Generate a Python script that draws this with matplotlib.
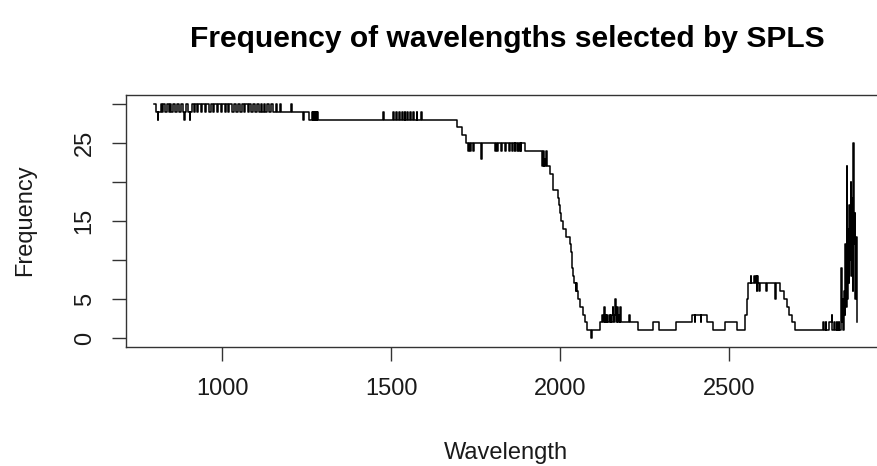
import matplotlib
matplotlib.use("Agg")
import matplotlib.pyplot as plt

# Step breakpoints (wavelength, frequency)
wavelength = [
    800, 804, 810, 812, 818, 822, 826, 830, 836, 842, 846, 850, 856, 862, 866, 872, 878, 884, 888, 890,
    894, 898, 904, 906, 910, 916, 920, 926, 930, 938, 942, 950, 954, 962, 966, 972, 976, 984, 988, 996,
    1000, 1008, 1012, 1018, 1022, 1030, 1034, 1040, 1046, 1052, 1058, 1064, 1068, 1076, 1080, 1086, 1092,
    1098, 1104, 1108, 1114, 1118, 1124, 1128, 1134, 1138, 1146, 1150, 1160, 1162, 1172, 1174, 1204, 1206,
    1240, 1242, 1258, 1266, 1268, 1270, 1272, 1274, 1276, 1278, 1280, 1282, 1284,
    1476, 1478, 1506, 1508, 1516, 1518, 1524, 1526, 1532, 1534, 1540, 1542, 1548, 1550, 1556, 1558,
    1566, 1568, 1576, 1578, 1590, 1592,
    1696, 1710, 1722, 1728, 1730, 1734, 1736, 1742, 1744, 1766, 1768, 1808, 1810, 1814, 1816, 1826, 1828,
    1838, 1840, 1850, 1852, 1858, 1862, 1866, 1868, 1874, 1876, 1880, 1882, 1884, 1886, 1896,
    1946, 1948, 1950, 1952, 1954, 1956, 1958, 1960, 1970, 1980, 1994, 1998, 2000, 2004, 2008, 2018,
    2030, 2032, 2034, 2036, 2038, 2042, 2046, 2048, 2050, 2052, 2060, 2068, 2074, 2080, 2092, 2094,
    2118, 2124, 2126, 2130, 2132, 2134, 2136, 2138, 2140, 2144, 2148, 2150, 2152, 2156, 2158, 2160,
    2164, 2166, 2168, 2170, 2172, 2174, 2176, 2178, 2180, 2204, 2206, 2231, 2275, 2293, 2343, 2391,
    2398, 2400, 2416, 2418, 2435, 2453, 2488, 2524, 2548, 2552, 2556, 2564, 2566, 2574, 2576, 2580,
    2582, 2584, 2586, 2590, 2592, 2610, 2612, 2636, 2638, 2652, 2664, 2672, 2678, 2686, 2694,
    2778, 2782, 2786, 2788, 2796, 2804, 2806, 2810, 2814, 2818, 2820, 2824, 2826, 2830,
    2832, 2834, 2836, 2838, 2840, 2842, 2844, 2846, 2848, 2850, 2852, 2854, 2856, 2858, 2860, 2862,
    2864, 2866, 2868, 2870, 2872, 2874, 2876, 2878, 2880,
]
frequency = [
    30, 29, 28, 29, 30, 29, 30, 29, 30, 29, 30, 29, 30, 29, 30, 29, 30, 29, 28, 29,
    30, 29, 28, 29, 30, 29, 30, 29, 30, 29, 30, 29, 30, 29, 30, 29, 30, 29, 30, 29,
    30, 29, 30, 29, 30, 29, 30, 29, 30, 29, 30, 29, 30, 29, 30, 29, 30,
    29, 30, 29, 30, 29, 30, 29, 30, 29, 30, 29, 30, 29, 30, 29, 30, 29,
    28, 29, 28, 29, 28, 29, 28, 29, 28, 29, 28, 29, 28,
    29, 28, 29, 28, 29, 28, 29, 28, 29, 28, 29, 28, 29, 28, 29, 28,
    29, 28, 29, 28, 29, 28,
    27, 26, 25, 24, 25, 24, 25, 24, 25, 23, 25, 24, 25, 24, 25, 24, 25,
    24, 25, 24, 25, 24, 25, 24, 25, 24, 25, 24, 25, 24, 25, 24,
    23, 22, 24, 22, 23, 22, 24, 22, 21, 19, 18, 17, 16, 15, 14, 13,
    12, 11, 10, 9, 8, 7, 6, 7, 6, 5, 4, 3, 2, 1, 0, 1,
    2, 3, 2, 4, 2, 3, 2, 3, 2, 3, 2, 3, 2, 4, 3, 2,
    5, 3, 2, 4, 2, 3, 2, 4, 2, 3, 2, 1, 2, 1, 2, 3,
    2, 3, 2, 3, 2, 1, 2, 1, 3, 5, 7, 8, 7, 8, 7, 8,
    6, 8, 7, 6, 7, 6, 7, 5, 7, 6, 5, 4, 3, 2, 1,
    2, 1, 2, 1, 2, 3, 1, 2, 1, 2, 1, 2, 1, 2,
    9, 2, 5, 1, 6, 3, 12, 4, 22, 5, 14, 7, 17, 10, 20, 8,
    18, 6, 25, 12, 16, 5, 13, 3, 2,
]

x_ticks = [1000, 1500, 2000, 2500]
x_tick_labels = ["1000", "1500", "2000", "2500"]
y_ticks = [0, 5, 10, 15, 20, 25, 30]
y_tick_labels = ["0", "5", "", "15", "", "25", ""]

plt.rcParams["font.family"] = ["Liberation Sans", "DejaVu Sans"]

W, H = 877, 466
fig = plt.figure(figsize=(W / 100, H / 100), dpi=100)
left, right, top, bottom = 126.3, 885.6, 94.6, 347.4
ax = fig.add_axes([left / W, 1 - bottom / H, (right - left) / W, (bottom - top) / H])

ax.plot(wavelength, frequency, drawstyle="steps-post", color="black", lw=1.1)

xmin, xmax = 800, 2880
ymin, ymax = 0, 30
dx = 0.04 * (xmax - xmin)
dy = 0.04 * (ymax - ymin)
ax.set_xlim(xmin - dx, xmax + dx)
ax.set_ylim(ymin - dy, ymax + dy)

ax.set_xticks(x_ticks)
ax.set_xticklabels(x_tick_labels)
ax.set_yticks(y_ticks)
ax.set_yticklabels(y_tick_labels, rotation=90, va="center")

ax.tick_params(axis="both", direction="out", length=10, width=1.0, color="#333333",
               labelsize=17, labelcolor="#1a1a1a")
ax.tick_params(axis="x", pad=12)
ax.tick_params(axis="y", pad=12)
for s in ax.spines.values():
    s.set_linewidth(1.0)
    s.set_color("#333333")

fig.text(507 / W, 1 - 39 / H, "Frequency of wavelengths selected by SPLS",
         ha="center", va="center", fontsize=21.6, fontweight="bold")
fig.text(506 / W, 1 - 453 / H, "Wavelength", ha="center", va="center", fontsize=17, color="#1a1a1a")
fig.text(25 / W, 1 - 220 / H, "Frequency", ha="center", va="center", rotation=90,
         fontsize=17, color="#1a1a1a")

fig.savefig("out.png", dpi=100)
